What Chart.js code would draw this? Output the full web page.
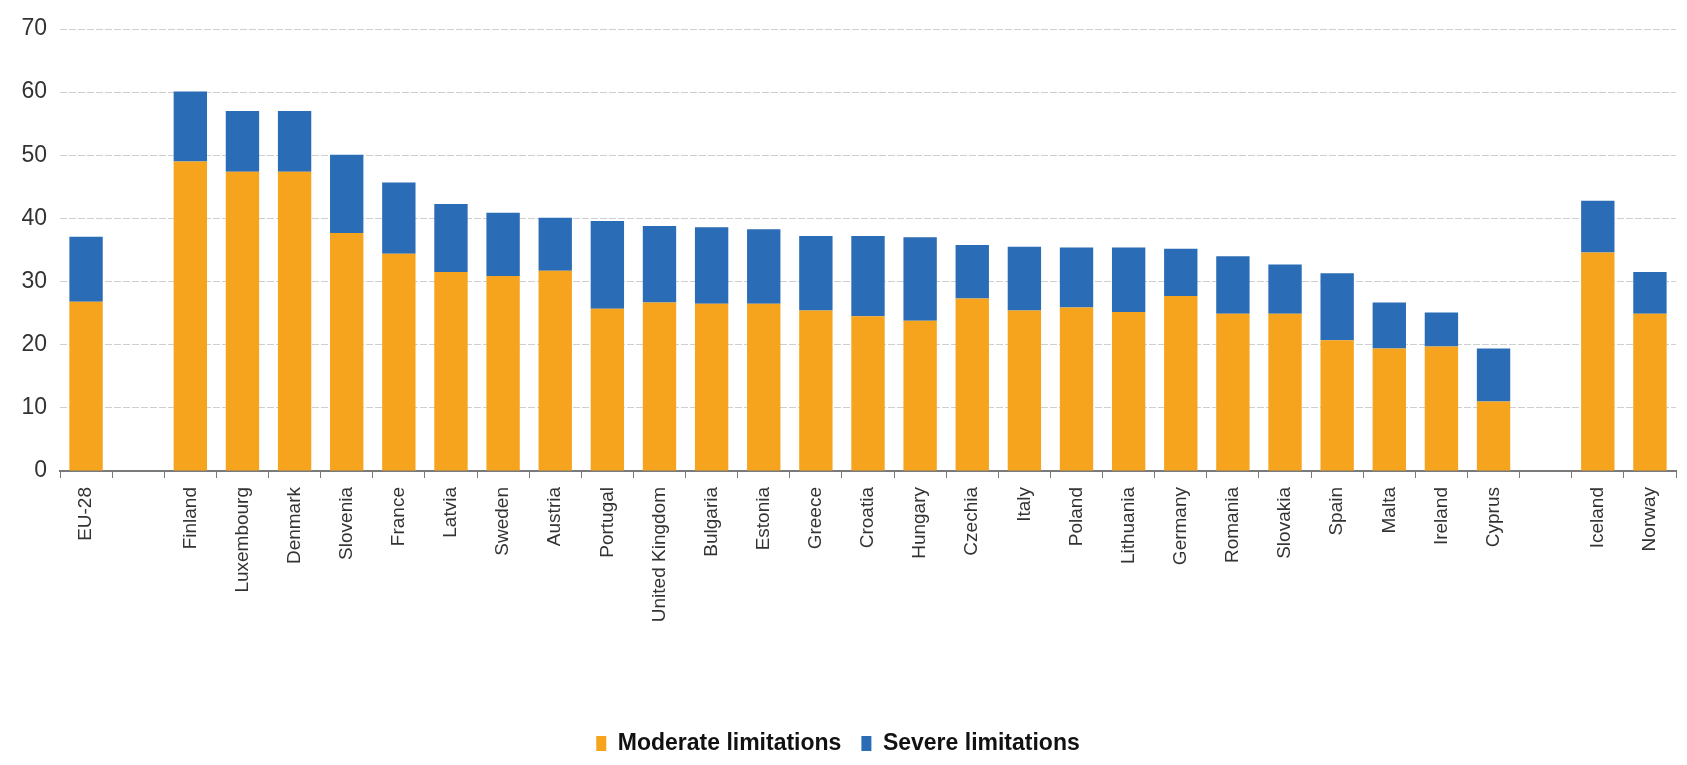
<html><head><script src="https://cdn.jsdelivr.net/npm/chart.js@4.4.3/dist/chart.umd.min.js"></script>
<style>
  body { margin: 0; background: #fff; }
  #wrap { width: 1687px; height: 765px; }
</style>
</head>
<body>
<div id="wrap"><canvas id="mychart"></canvas></div>
<script>
// countries, blank slots keep the gaps between the groups
countries = ["EU-28", "", "Finland", "Luxembourg", "Denmark", "Slovenia", "France", "Latvia", "Sweden",
  "Austria", "Portugal", "United Kingdom", "Bulgaria", "Estonia", "Greece", "Croatia", "Hungary",
  "Czechia", "Italy", "Poland", "Lithuania", "Germany", "Romania", "Slovakia", "Spain", "Malta",
  "Ireland", "Cyprus", "", "Iceland", "Norway"]
moderate = [26.8, null, 49.0, 47.4, 47.4, 37.7, 34.4, 31.5, 30.9, 31.7, 25.7, 26.7, 26.5, 26.5, 25.4,
  24.5, 23.8, 27.3, 25.4, 25.9, 25.2, 27.7, 24.9, 24.9, 20.7, 19.4, 19.7, 11.0, null, 34.6, 24.9]
severe = [10.3, null, 11.1, 9.6, 9.6, 12.4, 11.3, 10.8, 10.0, 8.4, 13.9, 12.1, 12.1, 11.8, 11.8,
  12.7, 13.2, 8.5, 10.1, 9.5, 10.2, 7.5, 9.1, 7.8, 10.6, 7.3, 5.4, 8.4, null, 8.2, 6.6]
yTicks = [0, 10, 20, 30, 40, 50, 60, 70]

narrow = "'Liberation Sans Narrow', 'Arial Narrow', 'Liberation Sans', Arial, sans-serif"
plain = "'Liberation Sans', Arial, sans-serif"

datainfo = {
  labels: countries,
  datasets: [
    { label: "Moderate limitations", data: moderate, backgroundColor: "#F6A31D",
      barPercentage: 0.64, categoryPercentage: 1 },
    { label: "Severe limitations", data: severe, backgroundColor: "#2A6CB5",
      barPercentage: 0.64, categoryPercentage: 1 }
  ]
}

config = {
  type: "bar",
  data: datainfo,
  options: {
    responsive: true,
    maintainAspectRatio: false,
    animation: false,
    layout: { padding: { top: 29, right: 11, left: 0, bottom: 0 } },
    plugins: {
      tooltip: { enabled: false },
      legend: {
        position: "bottom",
        labels: {
          boxWidth: 10, boxHeight: 15, padding: 20, color: "#111",
          font: { family: narrow, size: 23, weight: "bold" }
        }
      }
    },
    scales: {
      x: {
        stacked: true,
        grid: { offset: true, drawOnChartArea: false, drawTicks: true, tickLength: 7, color: "#7a7a7a" },
        border: { color: "#7a7a7a", width: 2 },
        ticks: { autoSkip: false, minRotation: 90, maxRotation: 90, padding: 9, color: "#333",
          font: { family: plain, size: 19 } },
        afterFit: function (s) { s.height = 241 }
      },
      y: {
        stacked: true,
        min: 0, max: 70,
        afterBuildTicks: function (s) { s.ticks = yTicks.map(v => ({ value: v })) },
        grid: { color: "#cfcfcf", drawTicks: false },
        border: { display: false, dash: [7, 2] },
        ticks: { padding: 13, color: "#333", font: { family: narrow, size: 23 } },
        afterFit: function (s) { s.width = 60 }
      }
    }
  }
}
new Chart(document.querySelector("#mychart"), config)
</script>
</body></html>
